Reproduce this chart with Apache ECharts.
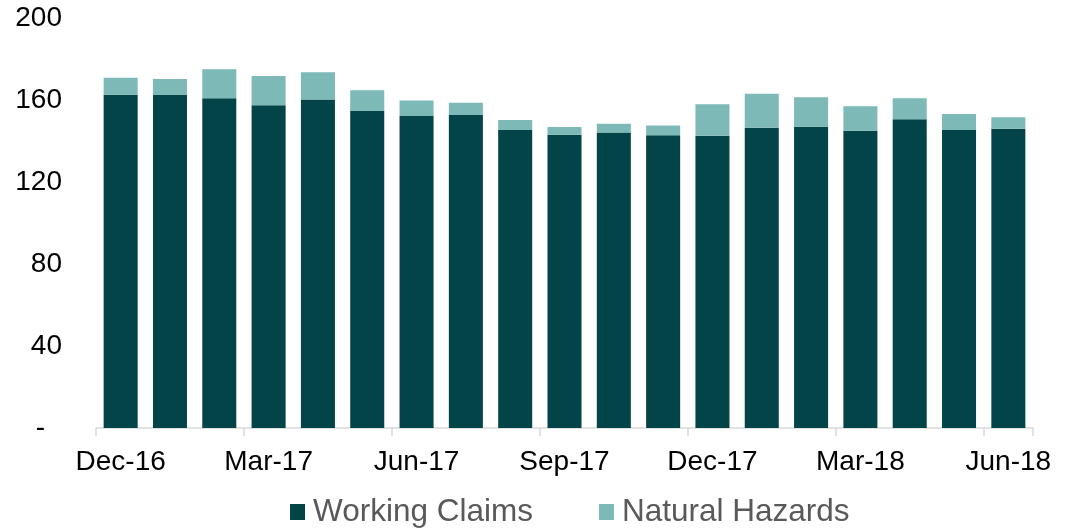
<!DOCTYPE html>
<html>
<head>
<meta charset="utf-8">
<script src="https://cdn.jsdelivr.net/npm/echarts@6/dist/echarts.min.js"></script>
<style>
  html, body { margin: 0; padding: 0; background: #fff; }
  #chart { width: 1081px; height: 530px; }
</style>
</head>
<body>
<div id="chart"></div>
<script>
// monthly, Dec-16 .. Jun-18
const months = [
  "Dec-16", "Jan-17", "Feb-17", "Mar-17", "Apr-17", "May-17", "Jun-17",
  "Jul-17", "Aug-17", "Sep-17", "Oct-17", "Nov-17", "Dec-17", "Jan-18",
  "Feb-18", "Mar-18", "Apr-18", "May-18", "Jun-18"
];
const workingClaims = [
  162.6, 162.4, 160.8, 157.4, 160.2, 154.6, 152.2, 152.7, 145.4, 143.1,
  144.1, 142.8, 142.6, 146.5, 147.0, 145.0, 150.6, 145.4, 146.0
];
const naturalHazards = [
  8.3, 7.8, 14.2, 14.3, 13.3, 10.1, 7.5, 6.0, 4.8, 3.7,
  4.3, 4.7, 15.3, 16.6, 14.3, 11.9, 10.2, 7.8, 5.6
];
const yTicks = [0, 40, 80, 120, 160, 200];

const FONT = "Liberation Sans, Arial, sans-serif";
const chart = echarts.init(document.getElementById("chart"));

chart.setOption({
  animation: false,
  grid: { left: 96, right: 48, top: 18, bottom: 102 },
  legend: {
    bottom: -3,
    left: 285,
    itemWidth: 15,
    itemHeight: 16,
    itemGap: 66,
    icon: "rect",
    textStyle: { fontFamily: FONT, fontSize: 31.5, color: "#595959", padding: [0, 0, 0, 3] },
    data: ["Working Claims", "Natural Hazards"]
  },
  xAxis: {
    type: "category",
    data: months,
    boundaryGap: true,
    axisLine: { lineStyle: { color: "#d9d9d9", width: 1.5 } },
    axisTick: { show: true, interval: 2, length: 8, lineStyle: { color: "#d9d9d9", width: 1.5 } },
    axisLabel: {
      interval: 2,
      margin: 20,
      fontFamily: FONT,
      fontSize: 28,
      color: "#000"
    }
  },
  yAxis: {
    type: "value",
    min: yTicks[0],
    max: yTicks[yTicks.length - 1],
    interval: 40,
    splitLine: { show: false },
    axisLine: { show: false },
    axisTick: { show: false },
    axisLabel: {
      margin: 34,
      fontFamily: FONT,
      fontSize: 28,
      color: "#000",
      formatter: (v) => (v === 0 ? "{d|-}" : String(v)),
      rich: { d: { fontFamily: FONT, fontSize: 28, color: "#000", padding: [0, 17, 0, 0] } }
    }
  },
  series: [
    {
      name: "Working Claims",
      type: "bar",
      stack: "total",
      data: workingClaims,
      barCategoryGap: "31%",
      itemStyle: { color: "#024448" }
    },
    {
      name: "Natural Hazards",
      type: "bar",
      stack: "total",
      data: naturalHazards,
      itemStyle: { color: "#7db9b7" }
    }
  ]
});
</script>
</body>
</html>
